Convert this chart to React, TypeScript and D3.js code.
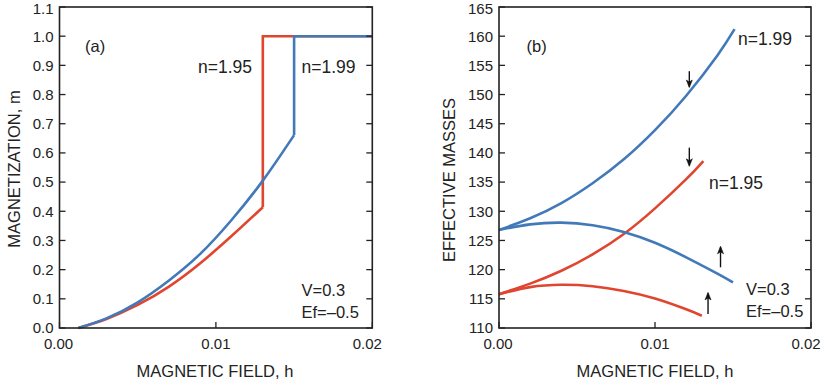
import React from "react";
import * as d3 from "d3";

// Panel (a): magnetization vs field
const aTicksX = [0, 0.01, 0.02];
const aTickLabelsX = ["0.00", "0.01", "0.02"];
const aTicksY = [0, 0.1, 0.2, 0.3, 0.4, 0.5, 0.6, 0.7, 0.8, 0.9, 1.0, 1.1];
const aRedH = [0.0012, 0.003, 0.005, 0.007, 0.009, 0.011, 0.013];
const aRedM = [0, 0.031, 0.079, 0.142, 0.222, 0.315, 0.414];
const aBlueH = [0.0012, 0.003, 0.005, 0.007, 0.009, 0.011, 0.013, 0.015];
const aBlueM = [0, 0.033, 0.088, 0.163, 0.254, 0.37, 0.505, 0.661];
const aRedJumpH = 0.013;
const aBlueJumpH = 0.015;
const aSaturation = 1.0;
const aEndH = 0.02;

// Panel (b): effective masses vs field
const bTicksY = [110, 115, 120, 125, 130, 135, 140, 145, 150, 155, 160, 165];
const bBlueUpH = [0, 0.002, 0.004, 0.006, 0.008, 0.01, 0.012, 0.014, 0.0151];
const bBlueUpV = [126.8, 128.8, 131.4, 134.8, 138.9, 143.9, 149.8, 156.7, 161.2];
const bBlueLoH = [0, 0.002, 0.004, 0.006, 0.008, 0.01, 0.012, 0.014, 0.015];
const bBlueLoV = [126.8, 127.75, 128.05, 127.6, 126.45, 124.6, 122.1, 119.3, 117.8];
const bRedUpH = [0, 0.002, 0.004, 0.006, 0.008, 0.01, 0.012, 0.0131];
const bRedUpV = [115.8, 117.6, 119.8, 122.6, 126.1, 130.5, 135.5, 138.6];
const bRedLoH = [0, 0.002, 0.004, 0.006, 0.008, 0.01, 0.012, 0.013];
const bRedLoV = [115.8, 117.0, 117.4, 117.15, 116.35, 115.05, 113.2, 112.1];
// arrows: h, tail value, tip value
const bArrowH = [0.0122, 0.0122, 0.0142, 0.0134];
const bArrowFrom = [154.0, 140.9, 120.4, 112.4];
const bArrowTo = [151.2, 137.7, 124.0, 116.1];

const RED = "#e0462f";
const BLUE = "#4279b8";
const INK = "#222";
const FONT = "'Liberation Sans', Arial, sans-serif";

const zip = (xs: number[], ys: number[]) => xs.map((x, i) => [x, ys[i]] as [number, number]);

function Frame({ x, y, yTicks, yFmt, xLabels }: any) {
  const [x0, x1] = x.range();
  const [y0, y1] = y.range();
  return (
    <g>
      {yTicks.map((t: number, i: number) => (
        <g key={i}>
          <line x1={x0} x2={x0 + 6} y1={y(t)} y2={y(t)} stroke={INK} strokeWidth={1.3} />
          <line x1={x1} x2={x1 - 6} y1={y(t)} y2={y(t)} stroke={INK} strokeWidth={1.3} />
          <text
            x={x0 - 6}
            y={Math.max(y(t), 8.5)}
            dy="0.36em"
            textAnchor="end"
            fontSize={15}
            fill={INK}
            fontFamily={FONT}
          >
            {yFmt(t)}
          </text>
        </g>
      ))}
      {aTicksX.map((t, i) => (
        <g key={i}>
          <line x1={x(t)} x2={x(t)} y1={y0} y2={y0 - 6} stroke={INK} strokeWidth={1.3} />
          <text
            x={x(t) + (i === 0 ? -1 : i === 2 ? -5 : 0)}
            y={y0 + 21}
            textAnchor="middle"
            fontSize={15}
            fill={INK}
            fontFamily={FONT}
          >
            {xLabels[i]}
          </text>
        </g>
      ))}
      <rect x={x0} y={y1} width={x1 - x0} height={y0 - y1} fill="none" stroke={INK} strokeWidth={1.6} />
    </g>
  );
}

export default function App() {
  // panel a scales
  const xa = d3.scaleLinear().domain([0, 0.02]).range([59.5, 372.3]);
  const ya = d3.scaleLinear().domain([0, 1.1]).range([328, 7]);
  // panel b scales
  const xb = d3.scaleLinear().domain([0, 0.02]).range([499, 811]);
  const yb = d3.scaleLinear().domain([110, 165]).range([328, 7]);

  const curveA = d3
    .line<[number, number]>()
    .x((d) => xa(d[0]))
    .y((d) => ya(d[1]))
    .curve(d3.curveNatural);
  const stepA = d3
    .line<[number, number]>()
    .x((d) => xa(d[0]))
    .y((d) => ya(d[1]));
  const curveB = d3
    .line<[number, number]>()
    .x((d) => xb(d[0]))
    .y((d) => yb(d[1]))
    .curve(d3.curveNatural);

  const redA = zip(aRedH, aRedM);
  const blueA = zip(aBlueH, aBlueM);
  const redStep: [number, number][] = [
    redA[redA.length - 1],
    [aRedJumpH, aSaturation],
    [aEndH, aSaturation],
  ];
  const blueStep: [number, number][] = [
    blueA[blueA.length - 1],
    [aBlueJumpH, aSaturation],
    [aEndH, aSaturation],
  ];

  const lw = 2.6;

  return (
    <svg
      width={827}
      height={386}
      style={{ position: "absolute", left: 0, top: 0, background: "#fff" }}
      fontFamily={FONT}
    >
      <rect width={827} height={386} fill="#fff" />
      {/* Panel a */}
      <g>
        <path d={curveA(redA) || ""} fill="none" stroke={RED} strokeWidth={lw} />
        <path d={stepA(redStep) || ""} fill="none" stroke={RED} strokeWidth={lw} strokeLinejoin="miter" />
        <path d={curveA(blueA) || ""} fill="none" stroke={BLUE} strokeWidth={lw} />
        <path d={stepA(blueStep) || ""} fill="none" stroke={BLUE} strokeWidth={lw} strokeLinejoin="miter" />
        <Frame x={xa} y={ya} yTicks={aTicksY} yFmt={(t: number) => t.toFixed(1)} xLabels={aTickLabelsX} />
        <text x={85} y={52} fontSize={16.5} fill={INK}>(a)</text>
        <text x={198} y={73} fontSize={17.5} fill={INK}>n=1.95</text>
        <text x={301.5} y={73} fontSize={17.5} fill={INK}>n=1.99</text>
        <text x={301.5} y={296} fontSize={16.5} fill={INK}>V=0.3</text>
        <text x={301.5} y={317.5} fontSize={16.5} fill={INK}>Ef=–0.5</text>
        <text x={215} y={377} textAnchor="middle" fontSize={16.5} fill={INK}>MAGNETIC FIELD, h</text>
        <text
          transform="translate(20,169) rotate(-90)"
          textAnchor="middle"
          fontSize={16.5}
          fill={INK}
        >
          MAGNETIZATION, m
        </text>
      </g>
      {/* Panel b */}
      <g>
        <path d={curveB(zip(bRedUpH, bRedUpV)) || ""} fill="none" stroke={RED} strokeWidth={lw} />
        <path d={curveB(zip(bRedLoH, bRedLoV)) || ""} fill="none" stroke={RED} strokeWidth={lw} />
        <path d={curveB(zip(bBlueUpH, bBlueUpV)) || ""} fill="none" stroke={BLUE} strokeWidth={lw} />
        <path d={curveB(zip(bBlueLoH, bBlueLoV)) || ""} fill="none" stroke={BLUE} strokeWidth={lw} />
        {bArrowH.map((h, i) => {
          const ax = xb(h);
          const yFrom = yb(bArrowFrom[i]);
          const yTo = yb(bArrowTo[i]);
          const dir = yTo > yFrom ? 1 : -1;
          return (
            <g key={i}>
              <line x1={ax} x2={ax} y1={yFrom} y2={yTo - dir * 1} stroke="#111" strokeWidth={1.4} />
              <path
                d={`M${ax - 3},${yTo - dir * 7.5} L${ax},${yTo} L${ax + 3},${yTo - dir * 7.5} L${ax},${yTo - dir * 5.5} Z`}
                fill="#111"
                stroke="#111"
                strokeWidth={0.6}
              />
            </g>
          );
        })}
        <Frame x={xb} y={yb} yTicks={bTicksY} yFmt={(t: number) => String(t)} xLabels={aTickLabelsX} />
        <text x={526.5} y={52} fontSize={16.5} fill={INK}>(b)</text>
        <text x={738} y={44.5} fontSize={17.5} fill={INK}>n=1.99</text>
        <text x={709} y={188.5} fontSize={17.5} fill={INK}>n=1.95</text>
        <text x={746} y={295} fontSize={16.5} fill={INK}>V=0.3</text>
        <text x={746} y={316.5} fontSize={16.5} fill={INK}>Ef=–0.5</text>
        <text x={655} y={377} textAnchor="middle" fontSize={16.5} fill={INK}>MAGNETIC FIELD, h</text>
        <text
          transform="translate(455,180) rotate(-90)"
          textAnchor="middle"
          fontSize={16.5}
          fill={INK}
        >
          EFFECTIVE MASSES
        </text>
      </g>
    </svg>
  );
}
